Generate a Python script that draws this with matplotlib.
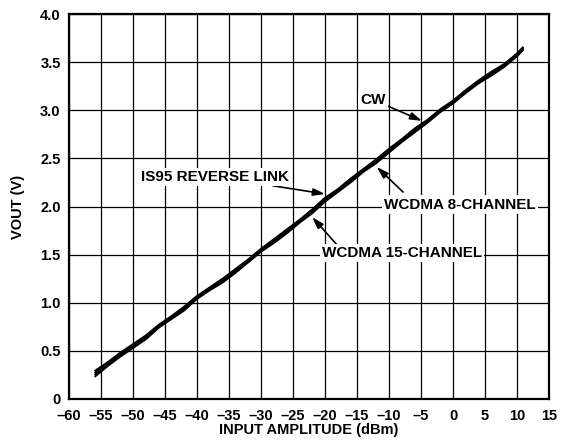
import matplotlib
matplotlib.use("Agg")
import matplotlib.pyplot as plt

# ---- data ----
x_dbm = [-56, -54, -52, -50, -48, -46, -44, -42, -40, -38, -36, -34, -32, -30,
         -28, -26, -24, -22, -20, -18, -16, -14, -12, -10, -8, -6, -4, -2, 0,
         2, 4, 6, 8, 10, 11]
vout_cw = [0.27, 0.37, 0.46, 0.55, 0.64, 0.76, 0.85, 0.94, 1.06, 1.15, 1.23,
           1.33, 1.44, 1.55, 1.64, 1.74, 1.85, 1.95, 2.07, 2.17, 2.27, 2.38,
           2.47, 2.58, 2.69, 2.79, 2.89, 3.00, 3.09, 3.20, 3.30, 3.38, 3.47,
           3.58, 3.65]
vout_is95 = [0.29, 0.38, 0.48, 0.57, 0.66, 0.77, 0.86, 0.96, 1.07, 1.16, 1.25,
             1.35, 1.45, 1.56, 1.66, 1.76, 1.86, 1.97, 2.09, 2.18, 2.29, 2.39,
             2.49, 2.60, 2.70, 2.81, 2.90, 3.01, 3.10, 3.21, 3.31, 3.40, 3.48,
             3.59, 3.66]
vout_wcdma8 = [0.25, 0.35, 0.45, 0.54, 0.63, 0.75, 0.84, 0.93, 1.05, 1.14,
               1.22, 1.32, 1.43, 1.54, 1.63, 1.73, 1.84, 1.94, 2.06, 2.16,
               2.26, 2.37, 2.46, 2.57, 2.68, 2.78, 2.88, 2.99, 3.08, 3.19,
               3.29, 3.37, 3.46, 3.57, 3.64]
vout_wcdma15 = [0.23, 0.34, 0.44, 0.53, 0.62, 0.74, 0.83, 0.92, 1.04, 1.13,
                1.21, 1.31, 1.42, 1.53, 1.62, 1.72, 1.83, 1.93, 2.05, 2.15,
                2.25, 2.36, 2.45, 2.56, 2.67, 2.77, 2.87, 2.98, 3.07, 3.18,
                3.28, 3.36, 3.45, 3.56, 3.63]

x_ticks = [-60, -55, -50, -45, -40, -35, -30, -25, -20, -15, -10, -5, 0, 5, 10, 15]
x_ticklabels = ["\u201360", "\u201355", "\u201350", "\u201345", "\u201340", "\u201335",
                "\u201330", "\u201325", "\u201320", "\u201315", "\u201310", "\u20135",
                "0", "5", "10", "15"]
y_ticks = [0, 0.5, 1.0, 1.5, 2.0, 2.5, 3.0, 3.5, 4.0]
y_ticklabels = ["0", "0.5", "1.0", "1.5", "2.0", "2.5", "3.0", "3.5", "4.0"]

plt.rcParams["font.family"] = ["Liberation Sans", "DejaVu Sans"]
plt.rcParams["font.weight"] = "bold"

FS = 10.5
FA = 11

fig = plt.figure(figsize=(5.69, 4.45), dpi=100)
ax = fig.add_axes([69 / 569, 1 - 399 / 445, 480 / 569, 385 / 445])

for ys in (vout_cw, vout_is95, vout_wcdma8, vout_wcdma15):
    ax.plot(x_dbm, ys, color="black", lw=1.4, solid_capstyle="butt", zorder=3)

ax.set_xlim(-60, 15)
ax.set_ylim(0, 4.0)
ax.set_xticks(x_ticks)
ax.set_xticklabels(x_ticklabels)
ax.set_yticks(y_ticks)
ax.set_yticklabels(y_ticklabels)
ax.tick_params(length=0, labelsize=FS)
ax.tick_params(axis="x", pad=7)
ax.tick_params(axis="y", pad=6)
for lab in ax.get_xticklabels() + ax.get_yticklabels():
    lab.set_fontweight("bold")
ax.grid(True, color="black", lw=0.9)
ax.set_axisbelow(True)
for s in ax.spines.values():
    s.set_linewidth(1.6)

ax.set_xlabel("INPUT AMPLITUDE (dBm)", fontsize=FS, fontweight="bold", va="center")
ax.xaxis.set_label_coords(0.5, -0.081)
ax.set_ylabel("VOUT (V)", fontsize=FS, fontweight="bold", va="center")
ax.yaxis.set_label_coords(-0.106, 0.5)

arrow = dict(arrowstyle="-|>,head_length=0.7,head_width=0.22", color="black",
             lw=1.2, mutation_scale=10, shrinkA=0, shrinkB=0)
box = dict(facecolor="white", edgecolor="none", pad=1.5)

ax.annotate("CW", xy=(-4.85, 2.89), xytext=(-12.5, 3.11), fontsize=FA,
            fontweight="bold", ha="center", va="center", arrowprops=arrow,
            bbox=box, zorder=4)
ax.annotate("IS95 REVERSE LINK", xy=(-20.0, 2.13), xytext=(-37.2, 2.31),
            fontsize=FA, fontweight="bold", ha="center", va="center",
            arrowprops=arrow, bbox=box, zorder=4)
ax.annotate("", xy=(-11.9, 2.41), xytext=(-7.8, 2.15), arrowprops=arrow, zorder=4)
ax.text(1.1, 2.02, "WCDMA 8-CHANNEL", fontsize=FA, fontweight="bold",
        ha="center", va="center", bbox=box, zorder=4)
ax.annotate("", xy=(-22.0, 1.89), xytext=(-18.1, 1.60), arrowprops=arrow, zorder=4)
ax.text(-8.0, 1.52, "WCDMA 15-CHANNEL", fontsize=FA, fontweight="bold",
        ha="center", va="center", bbox=box, zorder=4)

fig.savefig("out.png", dpi=100)
